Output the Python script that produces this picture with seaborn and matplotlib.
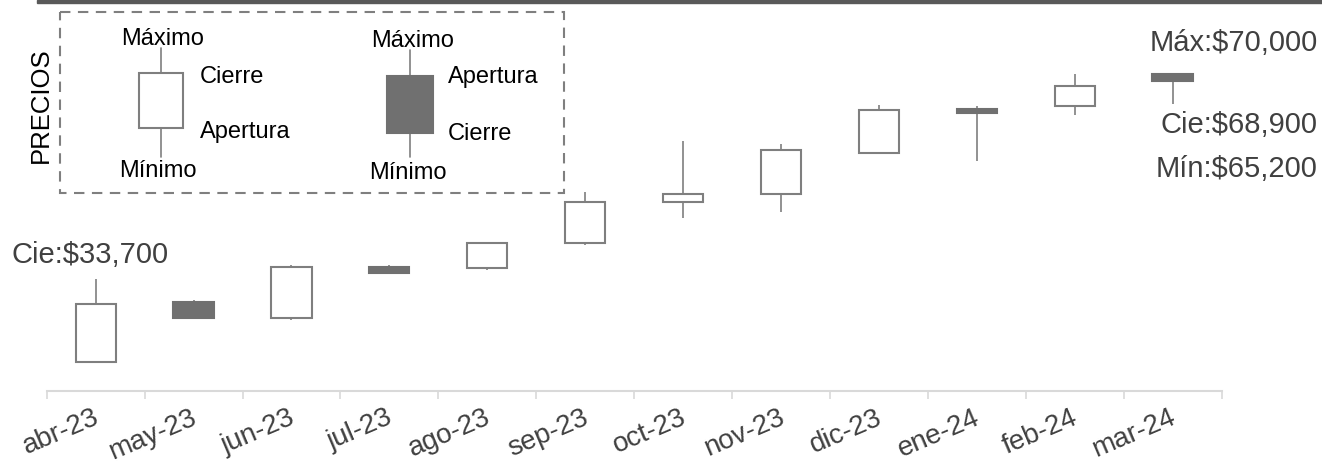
import numpy as np
import pandas as pd
import matplotlib
matplotlib.use("Agg")
import matplotlib.pyplot as plt
import matplotlib.transforms as mtransforms
import seaborn as sns
from matplotlib.patches import Rectangle

# Datos mensuales
meses = ['abr-23', 'may-23', 'jun-23', 'jul-23', 'ago-23', 'sep-23',
         'oct-23', 'nov-23', 'dic-23', 'ene-24', 'feb-24', 'mar-24']
apertura = [24500, 34000, 31500, 39600, 39400, 43400, 49800, 51000, 57500, 64500, 65000, 70000]
maximo = [37700, 34300, 39900, 39900, 43400, 51400, 59400, 58900, 65100, 65000, 70000, 70000]
minimo = [24400, 31500, 31100, 38600, 39000, 43000, 47300, 48200, 57500, 56300, 63600, 65200]
cierre = [33700, 31500, 39500, 38600, 43400, 49800, 51000, 58000, 64300, 63900, 68100, 68900]

df = pd.DataFrame({'mes': meses, 'apertura': apertura, 'maximo': maximo,
                   'minimo': minimo, 'cierre': cierre})
df['base'] = df[['apertura', 'cierre']].min(axis=1)
df['cuerpo'] = (df['cierre'] - df['apertura']).abs()
df['alcista'] = df['cierre'] >= df['apertura']

sns.set_theme(style='white')
plt.rcParams['font.family'] = ['Liberation Sans', 'DejaVu Sans']

GRIS = '#7f7f7f'
OSCURO = '#707070'
TEXTO = '#404040'

W, H = 1322, 469
fig = plt.figure(figsize=(W / 100, H / 100), dpi=100)
ax = fig.add_axes([46.7 / W, 1 - 390.7 / H, (1221.5 - 46.7) / W, (390.7 - 10.75) / H])

# mechas
ax.vlines(np.arange(len(meses)), df['minimo'], df['maximo'], color=GRIS, lw=1.2, zorder=2)

# cuerpos
alc = df[df['alcista']]
baj = df[~df['alcista']]
sns.barplot(data=alc, x='mes', y='cuerpo', order=meses, bottom=alc['base'].to_numpy(),
            width=0.41, errorbar=None, color='white', saturation=1, facecolor='white',
            edgecolor=GRIS, linewidth=1.5, zorder=3, ax=ax)
sns.barplot(data=baj, x='mes', y='cuerpo', order=meses, bottom=baj['base'].to_numpy(),
            width=0.41, errorbar=None, color=OSCURO, saturation=1, facecolor=OSCURO,
            edgecolor=OSCURO, linewidth=1.5, zorder=3, ax=ax)

ax.set_xlim(-0.5, len(meses) - 0.5)
ax.set_ylim(20000, 80000)
ax.set_yticks([])
ax.set_xlabel('')
ax.set_ylabel('')
ax.set_xticks(range(len(meses)))
ax.set_xticklabels(meses, rotation=23, ha='right', va='top', rotation_mode='anchor',
                   fontsize=20, color=TEXTO)
ax.set_xticks(np.arange(-0.5, len(meses), 1), minor=True)
ax.tick_params(axis='x', which='major', bottom=True, length=0, pad=10)
ax.tick_params(axis='x', which='minor', bottom=True, length=6, width=1.2,
               color='#d9d9d9', direction='out')
# pequeno corrimiento a la izquierda de las etiquetas del eje
desplazo = mtransforms.ScaledTranslation(-3 / 100, 0, fig.dpi_scale_trans)
for lab in ax.get_xticklabels():
    lab.set_transform(lab.get_transform() + desplazo)
sns.despine(ax=ax, left=True)
ax.spines['bottom'].set_color('#d9d9d9')
ax.spines['bottom'].set_linewidth(1.5)
ax.patch.set_alpha(0)

# etiquetas de datos
ax.annotate(f"Cie:${cierre[0]:,}", xy=(0, maximo[0]), xytext=(-4, 11),
            textcoords='offset points', ha='center', va='baseline',
            fontsize=21, color=TEXTO)
fig.text(1318 / W, 1 - 50.7 / H, f"Máx:${maximo[-1]:,}", ha='right', va='baseline',
         fontsize=21, color=TEXTO)
fig.text(1318 / W, 1 - 133 / H, f"Cie:${cierre[-1]:,}", ha='right', va='baseline',
         fontsize=21, color=TEXTO)
fig.text(1318 / W, 1 - 176.7 / H, f"Mín:${minimo[-1]:,}", ha='right', va='baseline',
         fontsize=21, color=TEXTO)

# barra superior
fig.patches.append(Rectangle((36.7 / W, 1 - 3 / H), 1, 3 / H, transform=fig.transFigure,
                             color='#595959', zorder=0))

fig.text(41 / W, 1 - 105 / H, 'PRECIOS', rotation=90, ha='center', va='center',
         fontsize=18.5, color='black')

# leyenda explicativa
lw_, lh_ = 504, 181.6
lax = fig.add_axes([60 / W, 1 - 193.3 / H, lw_ / W, lh_ / H])
lax.set_xlim(0, lw_)
lax.set_ylim(lh_, 0)
lax.axis('off')
lax.add_patch(Rectangle((0, 0), lw_, lh_, fill=False, edgecolor=GRIS, lw=1.5,
                        linestyle=(0, (5, 3.6)), clip_on=False))

lax.plot([101, 101], [36.6, 145], color=GRIS, lw=1.2, zorder=1)
lax.add_patch(Rectangle((101 - 22, 61), 44, 55.6, facecolor='white', edgecolor=GRIS,
                        lw=1.5, zorder=2))
lax.plot([349.5, 349.5], [38.3, 145], color=GRIS, lw=1.2, zorder=1)
lax.add_patch(Rectangle((349.5 - 23, 64), 46, 57.6, facecolor=OSCURO, edgecolor=OSCURO,
                        lw=1.5, zorder=2))

kw = dict(fontsize=17, color='black')
lax.text(102.5, 33.3, 'Máximo', ha='center', va='baseline', **kw)
lax.text(98, 165, 'Mínimo', ha='center', va='baseline', **kw)
lax.text(140, 65, 'Cierre', ha='left', va='center', **kw)
lax.text(140, 120, 'Apertura', ha='left', va='center', **kw)
lax.text(352.5, 35.6, 'Máximo', ha='center', va='baseline', **kw)
lax.text(348, 167.6, 'Mínimo', ha='center', va='baseline', **kw)
lax.text(388, 65, 'Apertura', ha='left', va='center', **kw)
lax.text(388, 122, 'Cierre', ha='left', va='center', **kw)

fig.savefig('out.png', dpi=100)
